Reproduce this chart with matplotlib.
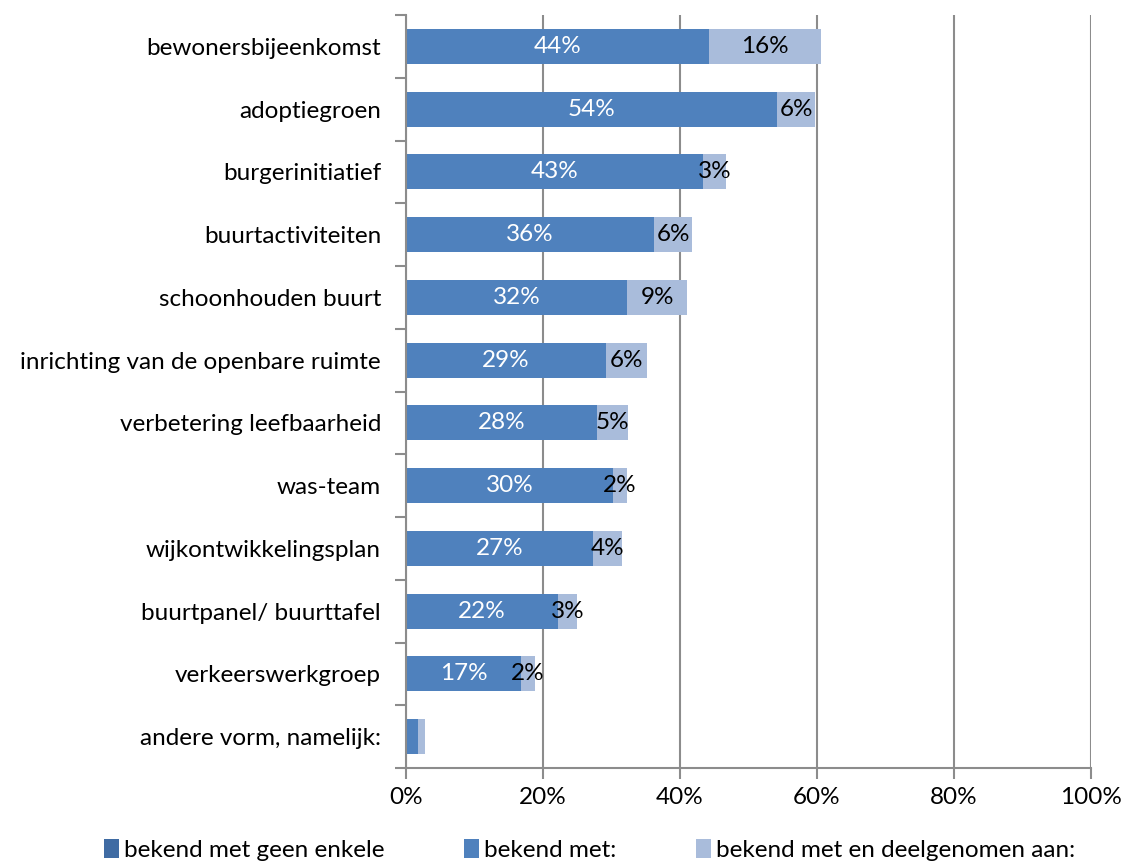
import matplotlib.pyplot as plt
import numpy as np

plt.rcParams['font.family'] = ['Lato', 'DejaVu Sans']

categories = ["bewonersbijeenkomst", "adoptiegroen", "burgerinitiatief",
              "buurtactiviteiten", "schoonhouden buurt",
              "inrichting van de openbare ruimte", "verbetering leefbaarheid",
              "was-team", "wijkontwikkelingsplan", "buurtpanel/ buurttafel",
              "verkeerswerkgroep", "andere vorm, namelijk:"]
geen_enkele = [0, 0, 0, 0, 0, 0, 0, 0, 0, 0, 0, 0]
bekend = [44.3, 54.2, 43.4, 36.2, 32.3, 29.2, 27.9, 30.2, 27.3, 22.2, 16.8, 1.8]
deelgenomen = [16.3, 5.5, 3.3, 5.6, 8.7, 6.0, 4.5, 2.1, 4.2, 2.8, 2.0, 1.0]
bekend_lbl = ["44%", "54%", "43%", "36%", "32%", "29%", "28%", "30%", "27%", "22%", "17%", ""]
deel_lbl = ["16%", "6%", "3%", "6%", "9%", "6%", "5%", "2%", "4%", "3%", "2%", ""]
series_names = ["bekend met geen enkele", "bekend met:", "bekend met en deelgenomen aan:"]
colors = ["#3f6ba3", "#4f81bd", "#a9bcdb"]

fs = 17.5

fig = plt.figure(figsize=(11.25, 8.61), dpi=100)
ax = fig.add_axes([406 / 1125, 1 - 768 / 861, 685 / 1125, 753 / 861])

y = np.arange(len(categories))
h = 0.56
ax.barh(y, geen_enkele, height=h, color=colors[0], label=series_names[0])
ax.barh(y, bekend, left=geen_enkele, height=h, color=colors[1], label=series_names[1])
left2 = np.array(geen_enkele) + np.array(bekend)
ax.barh(y, deelgenomen, left=left2, height=h, color=colors[2], label=series_names[2])

for i in range(len(categories)):
    if bekend_lbl[i]:
        ax.text(bekend[i] / 2, y[i], bekend_lbl[i], ha="center", va="center",
                color="white", fontsize=fs)
    if deel_lbl[i]:
        ax.text(left2[i] + deelgenomen[i] / 2, y[i], deel_lbl[i], ha="center",
                va="center", color="black", fontsize=fs)

ax.set_xlim(0, 100)
ax.set_ylim(len(categories) - 0.5, -0.5)
ax.set_xticks(np.arange(0, 101, 20))
ax.set_xticklabels([f"{v}%" for v in range(0, 101, 20)], fontsize=fs)
ax.set_yticks(np.arange(len(categories) + 1) - 0.5, minor=False)
ax.set_yticklabels([])
ax.set_yticks(y, minor=True)
ax.set_yticklabels(categories, minor=True, fontsize=fs)
ax.tick_params(axis="y", which="minor", length=0, pad=18)
ax.tick_params(axis="y", which="major", length=8, color="#8c8c8c", width=1.5)
ax.tick_params(axis="x", length=8, color="#8c8c8c", width=1.5, pad=6)
ax.xaxis.grid(True, color="#8c8c8c", linewidth=1.5)
ax.set_axisbelow(True)
for s in ["top", "right"]:
    ax.spines[s].set_visible(False)
for s in ["left", "bottom"]:
    ax.spines[s].set_color("#8c8c8c")
    ax.spines[s].set_linewidth(1.5)

fig.legend(loc="lower center", bbox_to_anchor=(0.524, -0.025), ncol=3, frameon=False,
           fontsize=fs, handlelength=0.6, handleheight=0.8, handletextpad=0.2,
           columnspacing=3.3)

fig.savefig("out.png", dpi=100)
